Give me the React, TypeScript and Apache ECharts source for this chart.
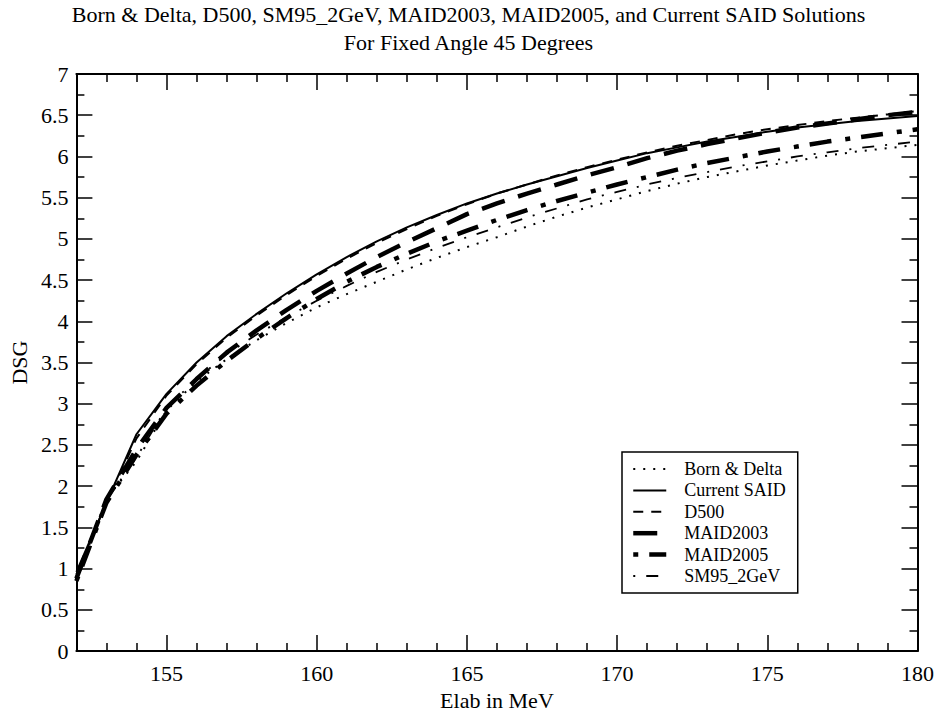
import React, { useEffect, useRef } from "react";
import * as echarts from "echarts";

const energies = [152, 153, 154, 155, 156, 157, 158, 159, 160, 161, 162, 163, 164, 165, 166, 167, 168, 169, 170, 171, 172, 173, 174, 175, 176, 177, 178, 179, 180];

const bornDelta = [0.85, 1.85, 2.30, 2.92, 3.27, 3.54, 3.77, 3.98, 4.17, 4.33, 4.48, 4.63, 4.77, 4.90, 5.02, 5.15, 5.27, 5.38, 5.48, 5.58, 5.67, 5.75, 5.82, 5.89, 5.95, 6.01, 6.06, 6.10, 6.14];
const currentSaid = [0.96, 1.80, 2.63, 3.12, 3.50, 3.82, 4.09, 4.34, 4.57, 4.78, 4.97, 5.14, 5.29, 5.43, 5.55, 5.66, 5.76, 5.86, 5.95, 6.04, 6.11, 6.18, 6.24, 6.30, 6.35, 6.39, 6.43, 6.46, 6.49];
const d500 = [0.93, 1.80, 2.58, 3.10, 3.48, 3.80, 4.07, 4.32, 4.55, 4.76, 4.95, 5.12, 5.28, 5.42, 5.55, 5.66, 5.77, 5.87, 5.96, 6.05, 6.13, 6.20, 6.27, 6.33, 6.38, 6.43, 6.47, 6.51, 6.55];
const maid2003 = [0.88, 1.84, 2.45, 2.95, 3.30, 3.62, 3.89, 4.14, 4.37, 4.58, 4.78, 4.96, 5.13, 5.30, 5.43, 5.55, 5.66, 5.77, 5.87, 5.98, 6.07, 6.15, 6.22, 6.29, 6.35, 6.40, 6.45, 6.50, 6.54];
const maid2005 = [0.85, 1.80, 2.38, 2.88, 3.22, 3.52, 3.79, 4.04, 4.27, 4.48, 4.66, 4.82, 4.97, 5.10, 5.23, 5.35, 5.46, 5.56, 5.66, 5.75, 5.84, 5.92, 5.99, 6.06, 6.12, 6.18, 6.23, 6.28, 6.33];
const sm95 = [0.88, 1.83, 2.35, 2.95, 3.30, 3.60, 3.84, 4.05, 4.25, 4.43, 4.60, 4.75, 4.89, 5.02, 5.14, 5.26, 5.37, 5.48, 5.57, 5.66, 5.74, 5.81, 5.88, 5.94, 6.00, 6.05, 6.10, 6.14, 6.18];

const seriesNames = ["Born & Delta", "Current SAID", "D500", "MAID2003", "MAID2005", "SM95_2GeV"];

const xMajorTicks = [155, 160, 165, 170, 175, 180];
const xMinorTicks = [153, 154, 156, 157, 158, 159, 161, 162, 163, 164, 166, 167, 168, 169, 171, 172, 173, 174, 176, 177, 178, 179];

const titleText = "Born & Delta, D500, SM95_2GeV, MAID2003, MAID2005, and Current SAID Solutions\nFor Fixed Angle 45 Degrees";

const FONT = "Liberation Serif";

export default function App() {
  const ref = useRef<HTMLDivElement>(null);

  useEffect(() => {
    const chart = echarts.init(ref.current!, null, { renderer: "svg" });
    const pairs = (vals: number[]) => energies.map((e, i) => [e, vals[i]]);

    const styles: Record<string, { width: number; type: any }> = {
      "Born & Delta": { width: 2, type: [2, 8] },
      "Current SAID": { width: 2, type: "solid" },
      D500: { width: 2, type: [10, 8] },
      MAID2003: { width: 4.5, type: [24, 14] },
      MAID2005: { width: 4.5, type: [5, 11, 22, 14] },
      SM95_2GeV: { width: 1.8, type: [2, 11, 12, 11] },
    };
    const valuesByName: Record<string, number[]> = {
      "Born & Delta": bornDelta,
      "Current SAID": currentSaid,
      D500: d500,
      MAID2003: maid2003,
      MAID2005: maid2005,
      SM95_2GeV: sm95,
    };

    const series = seriesNames.map((name) => ({
      name,
      type: "line",
      xAxisIndex: 0,
      yAxisIndex: 0,
      symbol: "none",
      smooth: false,
      color: "#000",
      data: pairs(valuesByName[name]),
      lineStyle: { color: "#000", ...styles[name] },
    }));

    const axisLine = { show: true, lineStyle: { color: "#000", width: 2 } };
    const xBase = { type: "value", min: 152, max: 180, splitLine: { show: false } };
    const tickStyle = { color: "#000", width: 1.5 };

    const option: any = {
      animation: false,
      backgroundColor: "#fff",
      title: {
        text: titleText,
        left: "center",
        top: 0,
        padding: 0,
        textStyle: { fontFamily: FONT, fontSize: 22, fontWeight: "normal", color: "#000", lineHeight: 28 },
      },
      grid: { left: 76, right: 19, top: 74, bottom: 55, containLabel: false },
      legend: {
        orient: "vertical",
        left: 622,
        top: 452,
        padding: [8, 12, 8, 9],
        itemWidth: 33,
        itemHeight: 14,
        itemGap: 3.4,
        borderColor: "#000",
        borderWidth: 1.5,
        backgroundColor: "#fff",
        selectedMode: false,
        itemStyle: { opacity: 0, borderWidth: 0 },
        textStyle: { fontFamily: FONT, fontSize: 18, color: "#000", padding: [0, 0, 0, 13] },
        data: seriesNames.map((name) => ({
          name,
          lineStyle: { color: "#000", width: styles[name].width, type: styles[name].type },
        })),
      },
      xAxis: [
        {
          ...xBase,
          position: "bottom",
          axisLine,
          axisTick: { show: true, inside: true, length: 16, customValues: xMajorTicks, lineStyle: tickStyle },
          axisLabel: { show: true, customValues: xMajorTicks, fontFamily: FONT, fontSize: 22, color: "#000", margin: 11 },
          name: "Elab in MeV",
          nameLocation: "middle",
          nameGap: 36,
          nameTextStyle: { fontFamily: FONT, fontSize: 22, color: "#000" },
        },
        {
          ...xBase,
          position: "bottom",
          axisLine: { show: false },
          axisTick: { show: true, inside: true, length: 8, customValues: xMinorTicks, lineStyle: tickStyle },
          axisLabel: { show: false },
        },
        {
          ...xBase,
          position: "top",
          axisLine,
          axisTick: { show: true, inside: true, length: 16, customValues: xMajorTicks, lineStyle: tickStyle },
          axisLabel: { show: false },
        },
        {
          ...xBase,
          position: "top",
          axisLine: { show: false },
          axisTick: { show: true, inside: true, length: 8, customValues: xMinorTicks, lineStyle: tickStyle },
          axisLabel: { show: false },
        },
      ],
      yAxis: [
        {
          type: "value",
          min: 0,
          max: 7,
          interval: 0.5,
          position: "left",
          splitLine: { show: false },
          axisLine,
          axisTick: { show: true, inside: true, length: 16, lineStyle: tickStyle },
          minorTick: { show: true, splitNumber: 2, length: 8, lineStyle: tickStyle },
          minorSplitLine: { show: false },
          axisLabel: { fontFamily: FONT, fontSize: 22, color: "#000", margin: 8 },
          name: "DSG",
          nameLocation: "middle",
          nameGap: 41,
          nameTextStyle: { fontFamily: FONT, fontSize: 22, color: "#000" },
        },
        {
          type: "value",
          min: 0,
          max: 7,
          interval: 0.5,
          position: "right",
          splitLine: { show: false },
          axisLine,
          axisTick: { show: true, inside: true, length: 16, lineStyle: tickStyle },
          minorTick: { show: true, splitNumber: 2, length: 8, lineStyle: tickStyle },
          minorSplitLine: { show: false },
          axisLabel: { show: false },
        },
      ],
      series,
    };

    chart.setOption(option);
    return () => chart.dispose();
  }, []);

  return (
    <div
      ref={ref}
      style={{ position: "fixed", left: 0, top: 0, width: 937, height: 716, background: "#fff" }}
    />
  );
}
